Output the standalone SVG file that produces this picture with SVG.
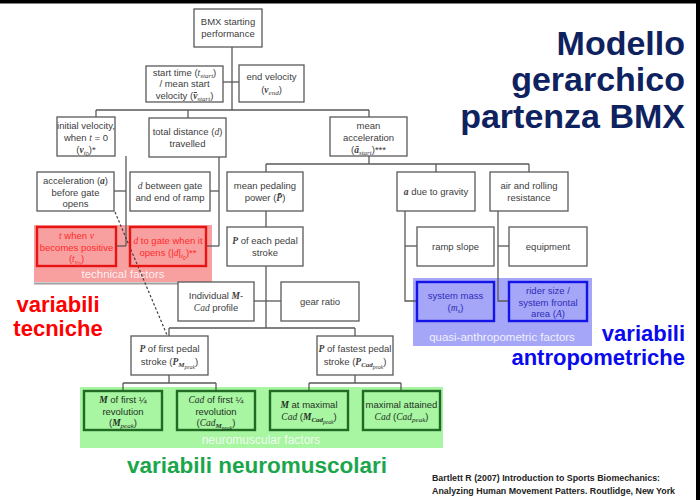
<svg xmlns="http://www.w3.org/2000/svg" width="700" height="500" viewBox="0 0 700 500">
<style>
.bx{fill:#fff;stroke:#595959;stroke-width:1.3}
.rb{fill:none;stroke:#e81414;stroke-width:2.4}
.bb{fill:none;stroke:#1414e8;stroke-width:2.4}
.gb{fill:none;stroke:#1f6b24;stroke-width:2.4}
.t{font-family:"Liberation Sans",Arial,sans-serif;font-size:9.5px;fill:#404040;text-anchor:middle}
.tr{fill:#ff2b2b}
.tb{fill:#2d2db8}
.tg{fill:#1f331f}
.i{font-family:"Liberation Serif","Times New Roman",serif;font-style:italic}
.bi{font-family:"Liberation Serif","Times New Roman",serif;font-style:italic;font-weight:bold}
.s{font-size:7px}
.ss{font-size:5.5px}
.c line,.c polyline{stroke:#595959;stroke-width:1.3;fill:none}
.lab{font-family:"Liberation Sans",Arial,sans-serif;fill:#fff;fill-opacity:0.85;text-anchor:middle}
.big{font-family:"Liberation Sans",Arial,sans-serif;font-weight:bold}
</style>
<rect x="0" y="0" width="700" height="500" fill="#fff"/>
<rect x="0" y="0" width="700" height="3.5" fill="#000"/>
<rect x="696" y="0" width="4" height="500" fill="#000"/>

<g id="regions">
<rect x="34" y="225" width="178" height="57" fill="#f8a0a0"/>
<line x1="34" y1="283.5" x2="212" y2="283.5" stroke="#a0a0a0" stroke-width="2"/>
<rect x="413" y="278" width="179" height="68" fill="#a6a6f8"/>
<rect x="80" y="387" width="363" height="61" fill="#a8f5a2"/>
<text class="lab" x="123" y="278" font-size="11.5">technical factors</text>
<text class="lab" x="502" y="341" font-size="11.5">quasi-anthropometric factors</text>
<text class="lab" x="261" y="444" font-size="12">neuromuscular factors</text>
</g>

<g id="connectors" class="c">
<line x1="232" y1="47" x2="232" y2="110"/>
<line x1="223" y1="82" x2="239" y2="82"/>
<line x1="96" y1="110" x2="369" y2="110"/>
<line x1="96" y1="110" x2="96" y2="117"/>
<line x1="188" y1="110" x2="188" y2="118"/>
<line x1="369" y1="110" x2="369" y2="117"/>
<line x1="126" y1="156" x2="126" y2="246"/>
<line x1="114" y1="191" x2="126" y2="191"/>
<line x1="116" y1="246" x2="126" y2="246"/>
<line x1="219" y1="157" x2="219" y2="246"/>
<line x1="210" y1="191" x2="219" y2="191"/>
<line x1="206" y1="246" x2="219" y2="246"/>
<line x1="369" y1="156" x2="369" y2="164"/>
<line x1="266" y1="164" x2="529" y2="164"/>
<line x1="266" y1="164" x2="266" y2="172"/>
<line x1="436" y1="164" x2="436" y2="172"/>
<line x1="529" y1="164" x2="529" y2="172"/>
<line x1="266" y1="211" x2="266" y2="227"/>
<line x1="266" y1="266" x2="266" y2="328"/>
<line x1="254" y1="301" x2="281" y2="301"/>
<line x1="169" y1="328" x2="355" y2="328"/>
<line x1="169" y1="328" x2="169" y2="336"/>
<line x1="355" y1="328" x2="355" y2="336"/>
<polyline points="405,211 405,301 417,301"/>
<line x1="405" y1="246" x2="417" y2="246"/>
<polyline points="498,211 498,301 509,301"/>
<line x1="498" y1="246" x2="509" y2="246"/>
<line x1="169" y1="375" x2="169" y2="383"/>
<line x1="123" y1="383" x2="216" y2="383"/>
<line x1="123" y1="383" x2="123" y2="391"/>
<line x1="216" y1="383" x2="216" y2="391"/>
<line x1="355" y1="375" x2="355" y2="383"/>
<line x1="309" y1="383" x2="401" y2="383"/>
<line x1="309" y1="383" x2="309" y2="391"/>
<line x1="401" y1="383" x2="401" y2="391"/>
<line x1="115" y1="212" x2="167" y2="335" style="stroke:#404040;stroke-width:1.2;stroke-dasharray:2.5,2"/>
</g>

<g id="n-bmx"><rect class="bx" x="194" y="9" width="68" height="38"/>
<text class="t" x="228" y="25">BMX starting</text><text class="t" x="228" y="37">performance</text></g>

<g id="n-starttime"><rect class="bx" x="146" y="66" width="77" height="36"/>
<text class="t" x="184.5" y="75.5">start time (<tspan class="i">t</tspan><tspan class="i s" dy="2">start</tspan><tspan dy="-2">)</tspan></text>
<text class="t" x="184.5" y="87">/ mean start</text>
<text class="t" x="184.5" y="98.5">velocity (<tspan class="bi">v̄</tspan><tspan class="i s" dy="2">start</tspan><tspan dy="-2">)</tspan></text></g>

<g id="n-endvel"><rect class="bx" x="239" y="65" width="65" height="37"/>
<text class="t" x="271.5" y="80">end velocity</text>
<text class="t" x="271.5" y="93">(<tspan class="bi">v</tspan><tspan class="i s" dy="2">end</tspan><tspan dy="-2">)</tspan></text></g>

<g id="n-initvel"><rect class="bx" x="57" y="117" width="58" height="39"/>
<text class="t" x="86" y="128.5" font-size="8.5">initial velocity,</text>
<text class="t" x="86" y="140.5" font-size="8.5">when <tspan class="i">t</tspan> = 0</text>
<text class="t" x="86" y="152.5" font-size="8.5">(<tspan class="bi">v</tspan><tspan class="i s" dy="2">t</tspan><tspan class="ss" dy="1.5">0</tspan><tspan dy="-3.5">)*</tspan></text></g>

<g id="n-totdist"><rect class="bx" x="149" y="118" width="77" height="39"/>
<text class="t" x="187.5" y="135">total distance (<tspan class="i">d</tspan>)</text>
<text class="t" x="187.5" y="147">travelled</text></g>

<g id="n-meanacc"><rect class="bx" x="330" y="117" width="77" height="39"/>
<text class="t" x="368.5" y="128.5">mean</text>
<text class="t" x="368.5" y="140.5">acceleration</text>
<text class="t" x="368.5" y="152.5">(<tspan class="bi">ā</tspan><tspan class="i s" dy="2">start</tspan><tspan dy="-2">)***</tspan></text></g>

<g id="n-accgate"><rect class="bx" x="37" y="172" width="77" height="39"/>
<text class="t" x="75.5" y="183.5">acceleration (<tspan class="bi">a</tspan>)</text>
<text class="t" x="75.5" y="195.5">before gate</text>
<text class="t" x="75.5" y="207">opens</text></g>

<g id="n-dbetween"><rect class="bx" x="130" y="172" width="80" height="39"/>
<text class="t" x="170" y="189"><tspan class="i">d</tspan> between gate</text>
<text class="t" x="170" y="201">and end of ramp</text></g>

<g id="n-twhenv"><rect class="rb" x="37" y="227" width="79" height="39"/>
<text class="t tr" x="76.5" y="238.5"><tspan class="i">t</tspan> when <tspan class="i">v</tspan></text>
<text class="t tr" x="76.5" y="250.5">becomes positive</text>
<text class="t tr" x="76.5" y="262">(<tspan class="i">t</tspan><tspan class="i s" dy="2">v</tspan><tspan class="ss" dy="1.5">0</tspan><tspan dy="-3.5">)</tspan></text></g>

<g id="n-dtogate"><rect class="rb" x="130" y="227" width="76" height="39"/>
<text class="t tr" x="168" y="244"><tspan class="i">d</tspan> to gate when it</text>
<text class="t tr" x="168" y="256">opens (|<tspan class="i">d</tspan>|<tspan class="i s" dy="2">t</tspan><tspan class="ss" dy="1.5">0</tspan><tspan dy="-3.5">)**</tspan></text></g>

<g id="n-meanpower"><rect class="bx" x="227" y="172" width="76" height="39"/>
<text class="t" x="265" y="189">mean pedaling</text>
<text class="t" x="265" y="201">power (<tspan class="bi">P̄</tspan>)</text></g>

<g id="n-peach"><rect class="bx" x="227" y="227" width="76" height="39"/>
<text class="t" x="265" y="244"><tspan class="bi">P</tspan> of each pedal</text>
<text class="t" x="265" y="256">stroke</text></g>

<g id="n-gravity"><rect class="bx" x="397" y="172" width="78" height="39"/>
<text class="t" x="436" y="195"><tspan class="bi">a</tspan> due to gravity</text></g>

<g id="n-air"><rect class="bx" x="490" y="172" width="78" height="39"/>
<text class="t" x="529" y="189">air and rolling</text>
<text class="t" x="529" y="201">resistance</text></g>

<g id="n-ramp"><rect class="bx" x="417" y="227" width="77" height="39"/>
<text class="t" x="455.5" y="250">ramp slope</text></g>

<g id="n-equip"><rect class="bx" x="509" y="227" width="78" height="39"/>
<text class="t" x="548" y="250">equipment</text></g>

<g id="n-mass"><rect class="bb" x="417" y="282" width="77" height="39"/>
<text class="t tb" x="455.5" y="299">system mass</text>
<text class="t tb" x="455.5" y="311">(<tspan class="i">m</tspan><tspan class="i s" dy="2">s</tspan><tspan dy="-2">)</tspan></text></g>

<g id="n-rider"><rect class="bb" x="509" y="282" width="78" height="39"/>
<text class="t tb" x="548" y="293.5">rider size /</text>
<text class="t tb" x="548" y="305.5">system frontal</text>
<text class="t tb" x="548" y="317">area (<tspan class="i">A</tspan>)</text></g>

<g id="n-mcad"><rect class="bx" x="178" y="282" width="76" height="39"/>
<text class="t" x="216" y="299">Individual <tspan class="bi">M</tspan>-</text>
<text class="t" x="216" y="311"><tspan class="i">Cad</tspan> profile</text></g>

<g id="n-gear"><rect class="bx" x="281" y="282" width="78" height="39"/>
<text class="t" x="320" y="305">gear ratio</text></g>

<g id="n-pfirst"><rect class="bx" x="131" y="336" width="77" height="39"/>
<text class="t" x="169.5" y="352"><tspan class="bi">P</tspan> of first pedal</text>
<text class="t" x="169.5" y="365">stroke (<tspan class="bi">P</tspan><tspan class="bi s" dy="2">M</tspan><tspan class="i ss" dy="1.5">peak</tspan><tspan dy="-3.5">)</tspan></text></g>

<g id="n-pfast"><rect class="bx" x="317" y="336" width="76" height="39"/>
<text class="t" x="355" y="352"><tspan class="bi">P</tspan> of fastest pedal</text>
<text class="t" x="355" y="365">stroke (<tspan class="bi">P</tspan><tspan class="bi s" dy="2">Cad</tspan><tspan class="i ss" dy="1.5">peak</tspan><tspan dy="-3.5">)</tspan></text></g>

<g id="n-mfirst"><rect class="gb" x="84" y="391" width="78" height="39"/>
<text class="t tg" x="123" y="402.5"><tspan class="bi">M</tspan> of first ¼</text>
<text class="t tg" x="123" y="414.5">revolution</text>
<text class="t tg" x="123" y="426">(<tspan class="bi">M</tspan><tspan class="i s" dy="2">peak</tspan><tspan dy="-2">)</tspan></text></g>

<g id="n-cadfirst"><rect class="gb" x="177" y="391" width="78" height="39"/>
<text class="t tg" x="216" y="402.5"><tspan class="i">Cad</tspan> of first ¼</text>
<text class="t tg" x="216" y="414.5">revolution</text>
<text class="t tg" x="216" y="426">(<tspan class="i">Cad</tspan><tspan class="bi s" dy="2">M</tspan><tspan class="i ss" dy="1.5">peak</tspan><tspan dy="-3.5">)</tspan></text></g>

<g id="n-mmax"><rect class="gb" x="270" y="391" width="78" height="39"/>
<text class="t tg" x="309" y="408"><tspan class="bi">M</tspan> at maximal</text>
<text class="t tg" x="309" y="420"><tspan class="i">Cad</tspan> (<tspan class="bi">M</tspan><tspan class="bi s" dy="2">Cad</tspan><tspan class="i ss" dy="1.5">peak</tspan><tspan dy="-3.5">)</tspan></text></g>

<g id="n-cadmax"><rect class="gb" x="363" y="391" width="77" height="39"/>
<text class="t tg" x="401.5" y="408">maximal attained</text>
<text class="t tg" x="401.5" y="420"><tspan class="i">Cad</tspan> (<tspan class="i">Cad</tspan><tspan class="i s" dy="2">peak</tspan><tspan dy="-2">)</tspan></text></g>

<g id="title" class="big" font-size="34" fill="#0e2260" text-anchor="end">
<text x="685" y="55">Modello</text>
<text x="685" y="91">gerarchico</text>
<text x="685" y="128">partenza BMX</text>
</g>

<g id="labels" class="big" font-size="22">
<text x="58" y="312" fill="#ff0000" text-anchor="middle">variabili</text>
<text x="58" y="336" fill="#ff0000" text-anchor="middle">tecniche</text>
<text x="685" y="341" fill="#0a0aee" text-anchor="end">variabili</text>
<text x="685" y="365" fill="#0a0aee" text-anchor="end">antropometriche</text>
<text x="257" y="473" fill="#1ba64c" text-anchor="middle" font-size="22.5">variabili neuromuscolari</text>
</g>

<g id="citation" font-family="'Liberation Sans',Arial,sans-serif" font-weight="bold" font-size="9" fill="#222">
<text x="432" y="481" textLength="228" lengthAdjust="spacingAndGlyphs">Bartlett R (2007) Introduction to Sports Biomechanics:</text>
<text x="432" y="494" textLength="243" lengthAdjust="spacingAndGlyphs">Analyzing Human Movement Patters. Routlidge, New York</text>
</g>
</svg>
